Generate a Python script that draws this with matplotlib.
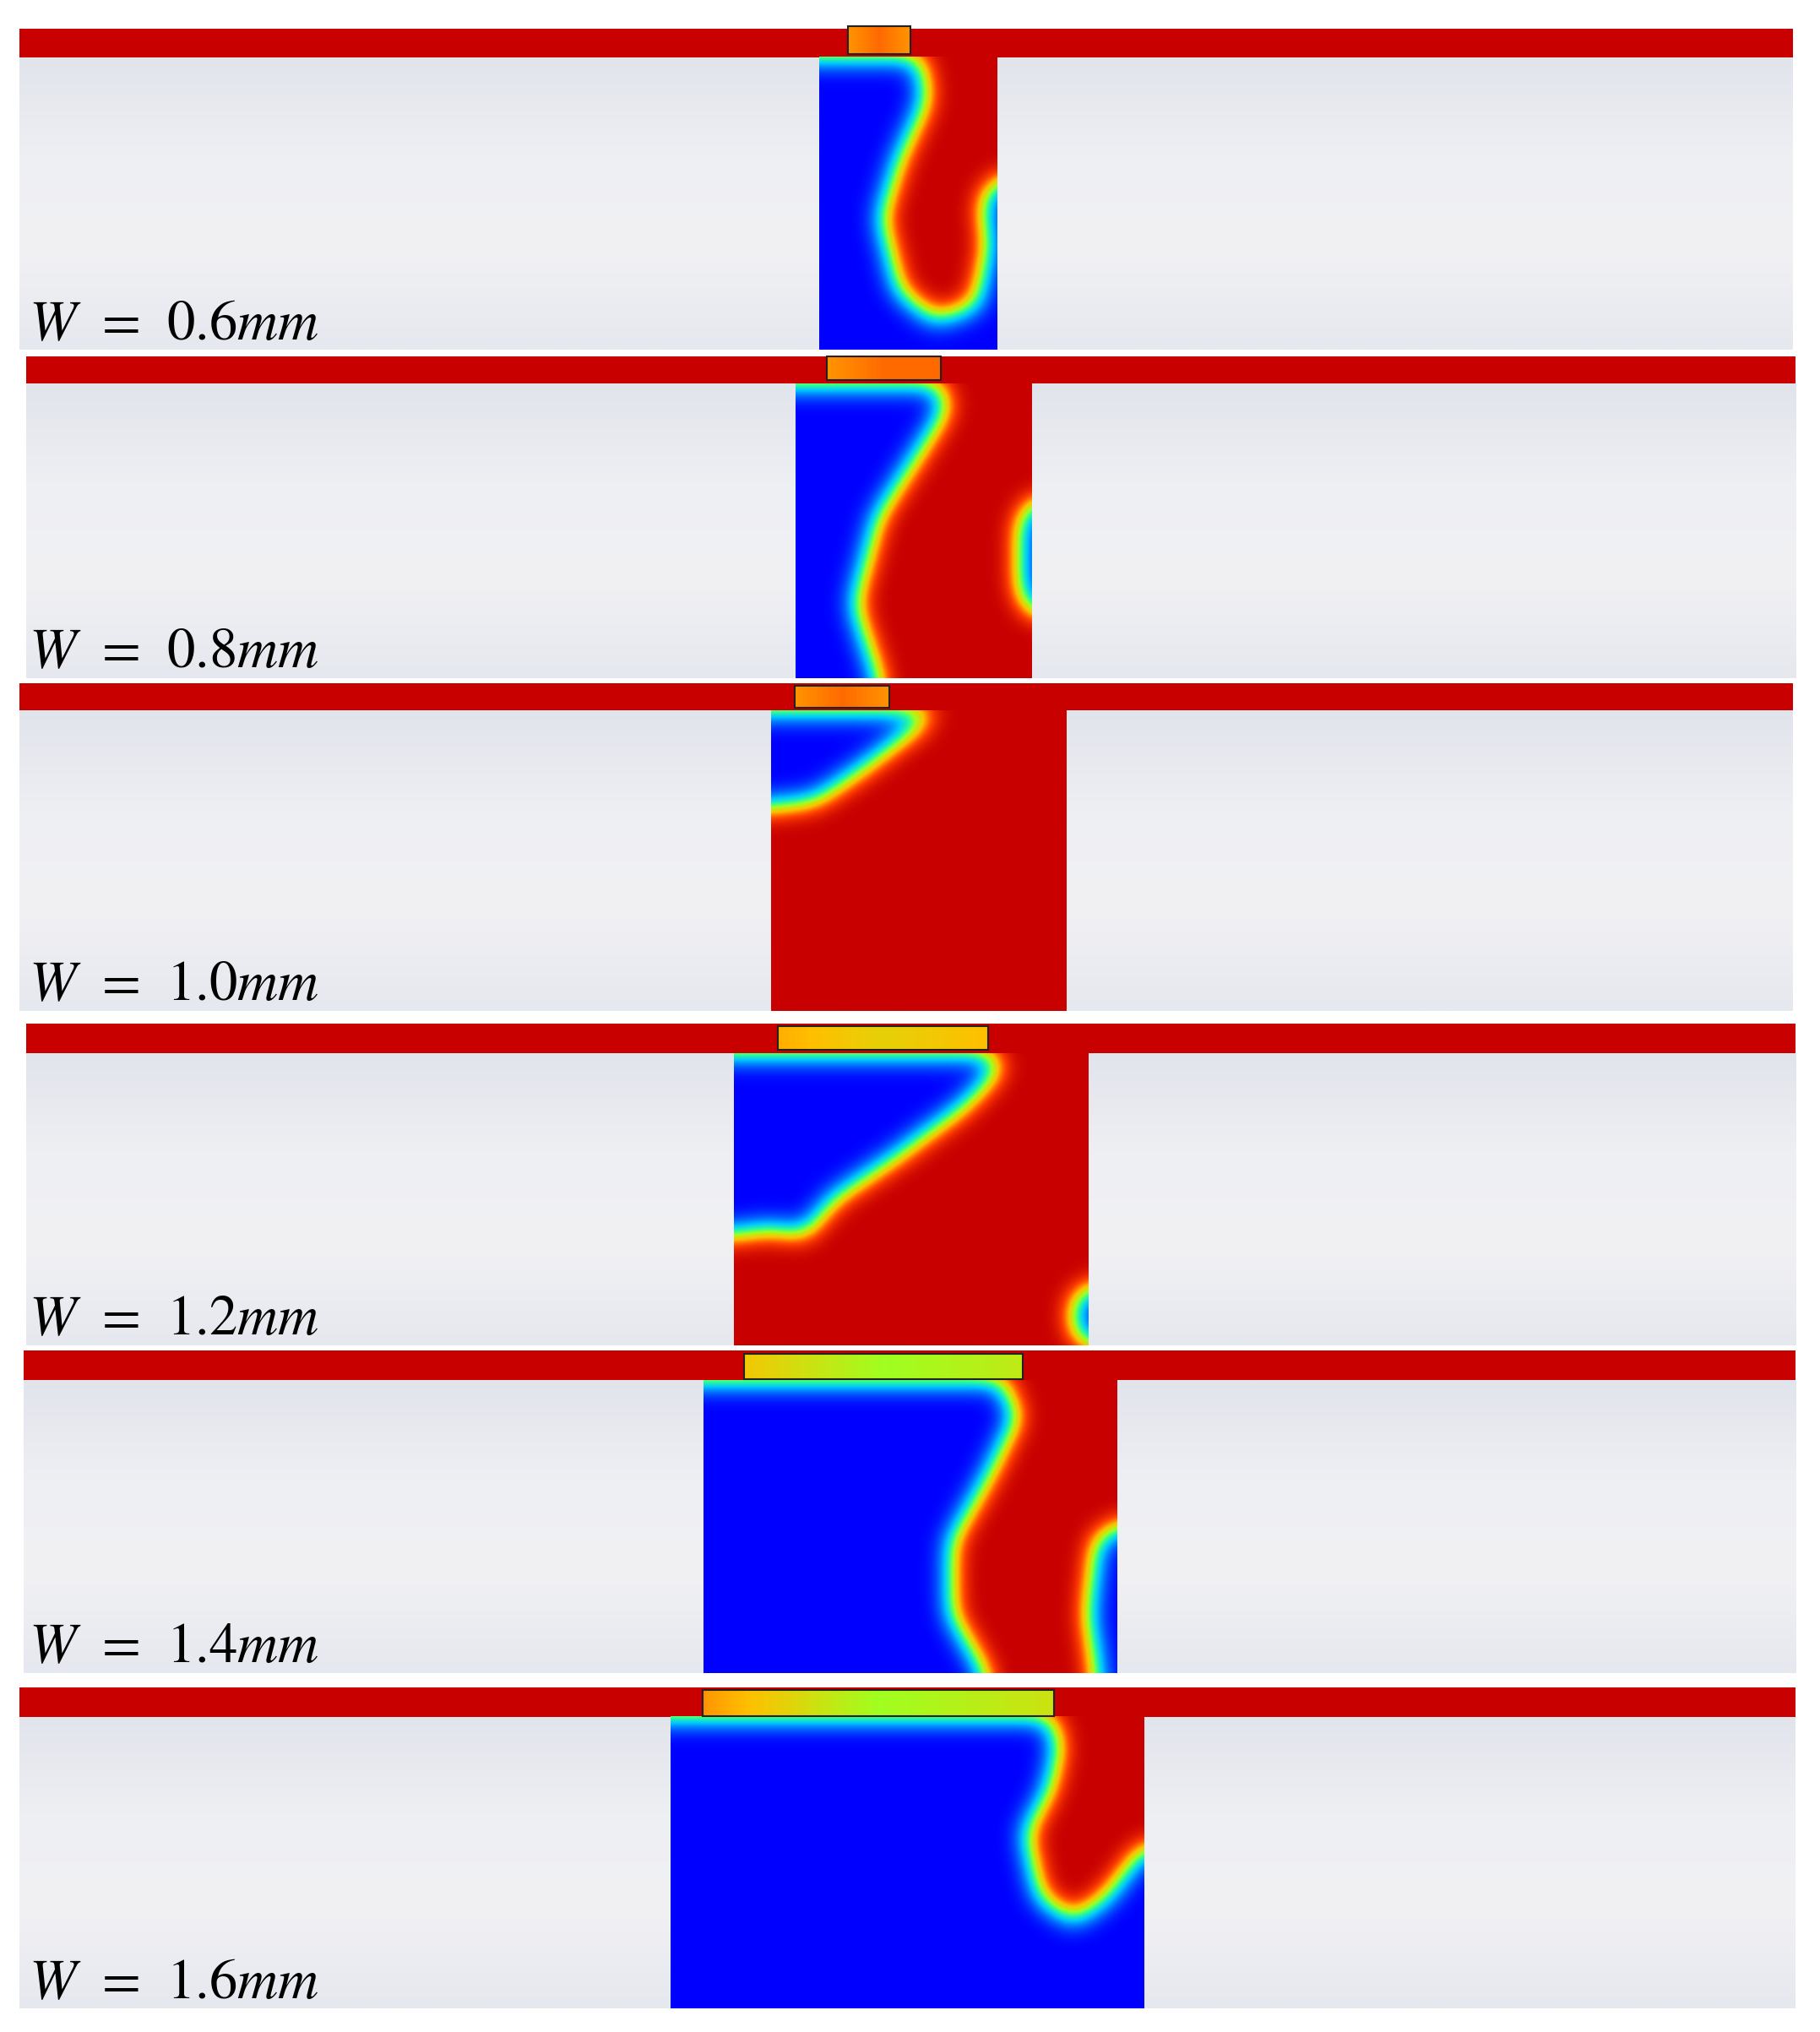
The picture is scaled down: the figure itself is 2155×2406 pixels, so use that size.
"""
Channel/well phase-fraction contours for six well widths W.
Layout is in display-pixel units of the reference (1404 x 1568).
"""

import numpy as np
import matplotlib.pyplot as plt
from matplotlib.colors import LinearSegmentedColormap
from matplotlib.path import Path
from matplotlib.patches import Rectangle

plt.rcParams["mathtext.fontset"] = "stix"

# ---------------------------------------------------------------------------
# Data
# ---------------------------------------------------------------------------
LABELS = ["0.6", "0.8", "1.0", "1.2", "1.4", "1.6"]

# red channel strip: x0, x1, y_top, y_bottom
STRIPS = [(15, 1383, 22, 44), (20, 1385, 275, 296), (15, 1383, 527, 548),
          (20, 1385, 790, 813), (18, 1385, 1042, 1065), (15, 1385, 1302, 1325)]

# well: x0, x1, y_bottom (top = strip bottom)
WELLS = [(632, 769, 270), (614, 796, 523), (595, 823, 780),
         (566, 839, 1038), (543, 862, 1291), (517, 882, 1550)]

# inlet box: x0, x1, y0, y1
INLETS = [(654, 702, 20, 42), (638, 726, 275, 293), (613, 686, 529, 546),
          (600, 762, 792, 810), (574, 789, 1045, 1064), (542, 813, 1304, 1324)]

# inlet colour values (left, middle, right) on the phase scale
INLET_VALS = [(0.75, 0.8, 0.75), (0.75, 0.8, 0.8), (0.75, 0.8, 0.75),
              (0.72, 0.66, 0.7), (0.68, 0.55, 0.6), (0.75, 0.55, 0.62)]

# liquid (red) region inside each well, normalised (u across, v down)
RED_REGIONS = [
    [(0.55, 0), (1, 0), (1, 0.42), (0.92, 0.5), (0.95, 0.65), (0.88, 0.85),
     (0.65, 0.9), (0.45, 0.8), (0.35, 0.55), (0.45, 0.35), (0.6, 0.15), (0.58, 0.05)],
    [(0.55, 0), (1, 0), (1, 0.4), (0.95, 0.48), (0.95, 0.7), (1, 0.78), (1, 1),
     (0.35, 1), (0.25, 0.75), (0.35, 0.45), (0.55, 0.2), (0.64, 0.08), (0.6, 0)],
    [(0, 0.32), (0.15, 0.3), (0.3, 0.2), (0.5, 0.05), (0.55, 0), (1, 0),
     (1, 1), (0, 1)],
    [(0.72, 0), (1, 0), (1, 0.8), (0.96, 0.85), (0.96, 0.95), (1, 1), (0, 1),
     (0, 0.62), (0.1, 0.6), (0.2, 0.62), (0.28, 0.5), (0.45, 0.36),
     (0.65, 0.18), (0.75, 0.05)],
    [(0.75, 0), (1, 0), (1, 0.5), (0.95, 0.55), (0.93, 0.8), (0.95, 1),
     (0.68, 1), (0.6, 0.8), (0.6, 0.55), (0.68, 0.35), (0.76, 0.12), (0.72, 0.02)],
    [(0.8, 0), (1, 0), (1, 0.45), (0.92, 0.62), (0.85, 0.7), (0.78, 0.62),
     (0.75, 0.4), (0.8, 0.25), (0.82, 0.1), (0.8, 0)],
]

RED = "#c80000"
cmap = LinearSegmentedColormap.from_list(
    "phase", [(0, "#0000ff"), (0.3, "#00c8ff"), (0.45, "#30ff90"),
              (0.55, "#a0ff20"), (0.7, "#ffc000"), (0.85, "#ff4000"), (1, RED)])
bg_cmap = LinearSegmentedColormap.from_list(
    "bg", ["#e2e4ec", "#eeeff3", "#f1f1f4", "#e6e8ef"])


def blur(a, sigma):
    r = int(3 * sigma)
    k = np.exp(-0.5 * (np.arange(-r, r + 1) / sigma) ** 2)
    k /= k.sum()
    p = np.pad(a, r, mode="edge")
    p[:r, :] = 1.0  # red channel above the well
    p = np.apply_along_axis(lambda m: np.convolve(m, k, mode="same"), 0, p)
    p = np.apply_along_axis(lambda m: np.convolve(m, k, mode="same"), 1, p)
    return p[r:-r, r:-r]


fig = plt.figure(figsize=(21.55, 24.06), dpi=100)
ax = fig.add_axes([0, 0, 1, 1])
ax.set_xlim(0, 1404)
ax.set_ylim(1568, 0)
ax.axis("off")

grad = np.linspace(0, 1, 200)[:, None]
for i, label in enumerate(LABELS):
    sx0, sx1, sy0, sy1 = STRIPS[i]
    wx0, wx1, wy1 = WELLS[i]
    wy0 = sy1

    # background below the channel
    ax.imshow(grad, cmap=bg_cmap, extent=(sx0, sx1, wy1, sy1),
              aspect="auto", zorder=1)
    ax.add_patch(Rectangle((sx0, sy0), sx1 - sx0, sy1 - sy0,
                           color=RED, lw=0, zorder=2))

    # phase field in the well
    nx, ny = int(wx1 - wx0), int(wy1 - wy0)
    uu, vv = np.meshgrid((np.arange(nx) + 0.5) / nx, (np.arange(ny) + 0.5) / ny)
    path = Path(RED_REGIONS[i])
    mask = path.contains_points(np.c_[uu.ravel(), vv.ravel()]).reshape(ny, nx)
    field = blur(mask.astype(float), 10)
    ax.imshow(field, cmap=cmap, vmin=0, vmax=1, extent=(wx0, wx1, wy1, wy0),
              aspect="auto", interpolation="bilinear", zorder=3)

    # inlet box
    ix0, ix1, iy0, iy1 = INLETS[i]
    vals = np.interp(np.linspace(0, 1, 100), [0, 0.5, 1], INLET_VALS[i])[None, :]
    ax.imshow(vals, cmap=cmap, vmin=0, vmax=1, extent=(ix0, ix1, iy1, iy0),
              aspect="auto", zorder=4)
    ax.add_patch(Rectangle((ix0, iy0), ix1 - ix0, iy1 - iy0, fill=False,
                           ec="#222222", lw=1.5, zorder=5))

    ax.text(22, wy1 - 8, rf"$W\;\,=\;\,{label}mm$", fontsize=48,
            ha="left", va="baseline", zorder=6)

fig.savefig("out.png", dpi=100, facecolor="white")
